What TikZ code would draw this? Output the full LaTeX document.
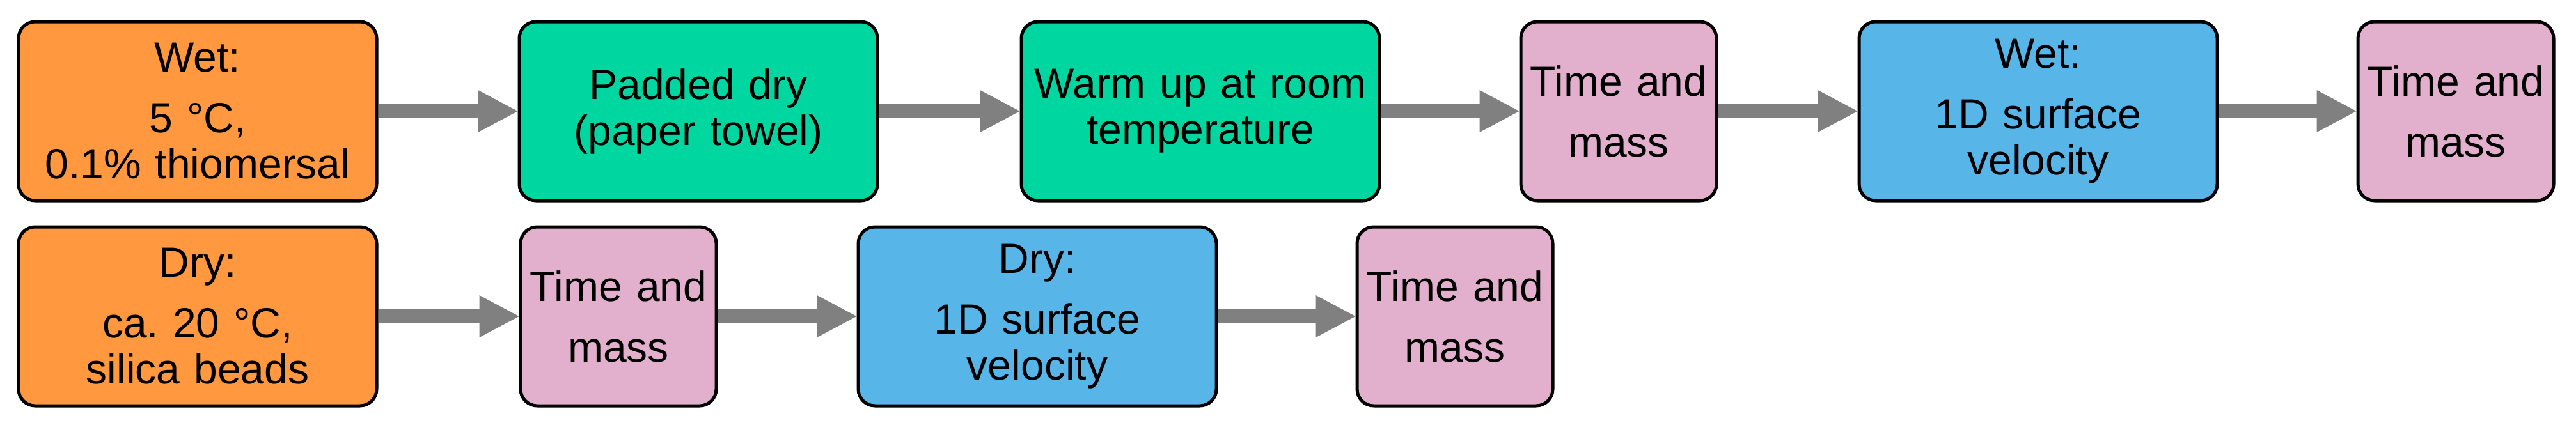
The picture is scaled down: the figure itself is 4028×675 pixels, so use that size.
\documentclass[tikz,border=0pt]{standalone}
\usepackage{fontspec}
\setmainfont{Liberation Sans}
\usetikzlibrary{arrows.meta}
\definecolor{corange}{RGB}{255,152,62}
\definecolor{cgreen}{RGB}{0,214,160}
\definecolor{cpink}{RGB}{226,176,204}
\definecolor{cblue}{RGB}{88,181,232}
\definecolor{carrow}{RGB}{128,128,128}
\tikzset{
  box/.style={draw=black, line width=2.5pt, rounded corners=13pt, align=center,
    inner sep=0pt,
    font=\fontsize{33pt}{36pt}\selectfont, minimum height=140pt},
  bigbox/.style={box, minimum width=280pt, text width=270pt},
  smallbox/.style={box, minimum width=153pt, text width=150pt},
  arr/.style={draw=carrow, line width=11pt, -{Triangle[length=31pt, width=33pt, line width=0pt]}}
}
\begin{document}
\begin{tikzpicture}[x=0.5pt, y=-0.5pt]
\useasboundingbox (0,0) rectangle (4028,675);
% row 1
\node[bigbox, fill=corange] (wet) at (309,174) {Wet:\\[11.5pt]5 °C,\\0.1\% thiomersal};
\node[bigbox, fill=cgreen] (pad) at (1092,174) {Padded dry\\(paper towel)};
\node[bigbox, fill=cgreen] (warm) at (1877,174) {Warm up at room\\temperature};
\node[smallbox, fill=cpink] (tm1) at (2531,174) {Time and\\[11.5pt]mass};
\node[bigbox, fill=cblue] (wvel) at (3187,174) {Wet:\\[11.5pt]1D surface\\velocity};
\node[smallbox, fill=cpink] (tm2) at (3840,174) {Time and\\[11.5pt]mass};
% row 2
\node[bigbox, fill=corange] (dry) at (309,495) {Dry:\\[11.5pt]ca.\ 20 °C,\\silica beads};
\node[smallbox, fill=cpink] (tm3) at (967,495) {Time and\\[11.5pt]mass};
\node[bigbox, fill=cblue] (dvel) at (1622,495) {Dry:\\[11.5pt]1D surface\\velocity};
\node[smallbox, fill=cpink] (tm4) at (2275,495) {Time and\\[11.5pt]mass};
% arrows
\draw[arr] (wet) -- (pad);
\draw[arr] (pad) -- (warm);
\draw[arr] (warm) -- (tm1);
\draw[arr] (tm1) -- (wvel);
\draw[arr] (wvel) -- (tm2);
\draw[arr] (dry) -- (tm3);
\draw[arr] (tm3) -- (dvel);
\draw[arr] (dvel) -- (tm4);
\end{tikzpicture}
\end{document}
